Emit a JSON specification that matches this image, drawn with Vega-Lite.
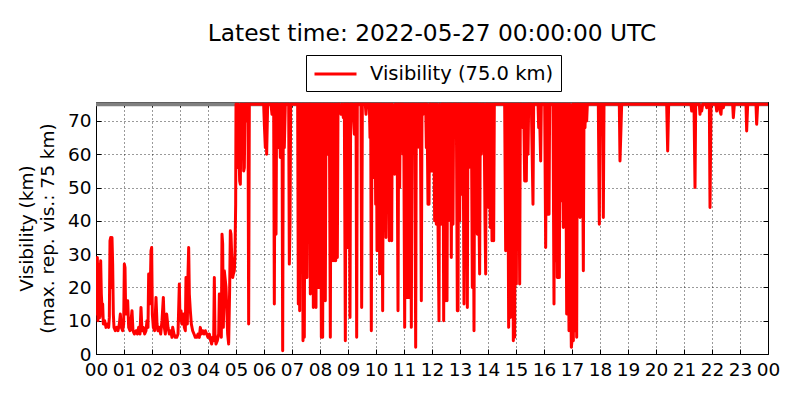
{
  "$schema": "https://vega.github.io/schema/vega-lite/v6.json",
  "width": 672,
  "height": 252,
  "autosize": {"type": "none"},
  "padding": {"left": 96, "top": 102, "right": 32, "bottom": 46},
  "background": "white",
  "config": {
    "font": "DejaVu Sans",
    "view": {"stroke": "black", "strokeWidth": 1},
    "axis": {
      "labelFont": "DejaVu Sans", "labelFontSize": 18.5, "labelColor": "black",
      "titleFont": "DejaVu Sans", "titleFontSize": 18.5, "titleFontWeight": "normal", "titleColor": "black",
      "domain": false, "tickColor": "black", "tickSize": -5, "tickWidth": 1,
      "gridColor": "black", "gridDash": [1, 3], "gridOpacity": 1, "gridWidth": 0.8,
      "labelOverlap": false, "labelFlush": false, "labelBound": false
    },
    "legend": {
      "orient": "none", "legendX": 210, "legendY": -47,
      "strokeColor": "black", "fillColor": "white", "padding": 7, "cornerRadius": 0,
      "symbolType": "M-1,0H3", "symbolSize": 441, "symbolStrokeWidth": 3,
      "labelFont": "DejaVu Sans", "labelFontSize": 19.5, "labelColor": "black", "labelOffset": 33, "labelLimit": 400
    }
  },
  "title": {"text": "Latest time: 2022-05-27 00:00:00 UTC", "font": "DejaVu Sans", "fontSize": 23.3, "fontWeight": "normal", "color": "black", "anchor": "middle", "offset": 8},
  "data": {"values": [
{"t":0,"v":28},{"t":0.024,"v":12},{"t":0.048,"v":29},{"t":0.071,"v":10},{"t":0.095,"v":15},{"t":0.119,"v":27},{"t":0.143,"v":11},{"t":0.167,"v":28},{"t":0.19,"v":18},{"t":0.214,"v":14},{"t":0.238,"v":15},{"t":0.262,"v":9},{"t":0.31,"v":10},{"t":0.357,"v":8},{"t":0.405,"v":9},{"t":0.452,"v":8},{"t":0.476,"v":11},{"t":0.5,"v":34},{"t":0.524,"v":35},{"t":0.548,"v":20},{"t":0.571,"v":35},{"t":0.595,"v":27},{"t":0.619,"v":12},{"t":0.643,"v":8},{"t":0.69,"v":7},{"t":0.738,"v":8},{"t":0.786,"v":7},{"t":0.833,"v":9},{"t":0.869,"v":12},{"t":0.905,"v":8},{"t":0.952,"v":7},{"t":0.988,"v":9},{"t":1.012,"v":27},{"t":1.036,"v":26},{"t":1.06,"v":12},{"t":1.095,"v":15},{"t":1.131,"v":16},{"t":1.167,"v":8},{"t":1.214,"v":7},{"t":1.262,"v":11},{"t":1.286,"v":13},{"t":1.321,"v":7},{"t":1.369,"v":6},{"t":1.429,"v":7},{"t":1.476,"v":6},{"t":1.524,"v":8},{"t":1.571,"v":6},{"t":1.607,"v":14},{"t":1.643,"v":7},{"t":1.69,"v":8},{"t":1.738,"v":6},{"t":1.786,"v":7},{"t":1.821,"v":10},{"t":1.857,"v":8},{"t":1.881,"v":24},{"t":1.905,"v":15},{"t":1.94,"v":20},{"t":1.964,"v":31},{"t":1.988,"v":32},{"t":2.012,"v":12},{"t":2.048,"v":8},{"t":2.095,"v":7},{"t":2.143,"v":17},{"t":2.179,"v":9},{"t":2.214,"v":7},{"t":2.262,"v":8},{"t":2.31,"v":6},{"t":2.357,"v":10},{"t":2.405,"v":17},{"t":2.44,"v":8},{"t":2.476,"v":6},{"t":2.524,"v":12},{"t":2.571,"v":8},{"t":2.619,"v":6},{"t":2.667,"v":7},{"t":2.714,"v":5},{"t":2.738,"v":8},{"t":2.786,"v":6},{"t":2.833,"v":5},{"t":2.881,"v":5},{"t":2.929,"v":6},{"t":2.976,"v":21},{"t":3.0,"v":10},{"t":3.036,"v":13},{"t":3.071,"v":9},{"t":3.119,"v":12},{"t":3.155,"v":8},{"t":3.19,"v":7},{"t":3.214,"v":23},{"t":3.238,"v":22},{"t":3.262,"v":9},{"t":3.286,"v":24},{"t":3.31,"v":32},{"t":3.333,"v":18},{"t":3.369,"v":13},{"t":3.405,"v":9},{"t":3.452,"v":7},{"t":3.5,"v":6},{"t":3.548,"v":5},{"t":3.595,"v":5},{"t":3.643,"v":6},{"t":3.69,"v":5},{"t":3.726,"v":8},{"t":3.762,"v":6},{"t":3.81,"v":7},{"t":3.857,"v":6},{"t":3.905,"v":7},{"t":3.952,"v":6},{"t":4.0,"v":5},{"t":4.048,"v":6},{"t":4.095,"v":4},{"t":4.131,"v":3},{"t":4.167,"v":5},{"t":4.202,"v":4},{"t":4.226,"v":23},{"t":4.25,"v":6},{"t":4.286,"v":3},{"t":4.333,"v":4},{"t":4.381,"v":6},{"t":4.405,"v":18},{"t":4.44,"v":10},{"t":4.476,"v":5},{"t":4.5,"v":36},{"t":4.524,"v":33},{"t":4.548,"v":8},{"t":4.583,"v":25},{"t":4.619,"v":22},{"t":4.643,"v":20},{"t":4.667,"v":14},{"t":4.702,"v":6},{"t":4.738,"v":3},{"t":4.774,"v":20},{"t":4.798,"v":37},{"t":4.821,"v":36},{"t":4.845,"v":30},{"t":4.881,"v":23},{"t":4.905,"v":24},{"t":4.94,"v":25},{"t":4.964,"v":30},{"t":4.988,"v":45},{"t":5.0,"v":75},
{"t":5.012,"v":63},{"t":5.036,"v":75},{"t":5.06,"v":56},{"t":5.083,"v":75},{"t":5.107,"v":60},{"t":5.131,"v":52},{"t":5.155,"v":51},{"t":5.179,"v":75},{"t":5.202,"v":67},{"t":5.226,"v":60},{"t":5.25,"v":75},{"t":5.274,"v":55},{"t":5.298,"v":56},{"t":5.321,"v":75},{"t":5.345,"v":70},{"t":5.369,"v":75},{"t":5.429,"v":75},{"t":5.452,"v":9},{"t":5.476,"v":75},
{"t":5.988,"v":75},{"t":6.012,"v":69},{"t":6.048,"v":62},{"t":6.071,"v":75},{"t":6.095,"v":60},{"t":6.131,"v":75},{"t":6.25,"v":75},{"t":6.286,"v":72},{"t":6.31,"v":75},{"t":6.345,"v":75},{"t":6.369,"v":15},{"t":6.393,"v":75},{"t":6.429,"v":36},{"t":6.452,"v":75},{"t":6.488,"v":75},{"t":6.524,"v":62},{"t":6.548,"v":75},{"t":6.583,"v":59},{"t":6.607,"v":75},{"t":6.643,"v":75},{"t":6.667,"v":1},{"t":6.69,"v":75},{"t":6.726,"v":62},{"t":6.762,"v":75},{"t":6.845,"v":75},{"t":6.881,"v":75},{"t":6.905,"v":27},{"t":6.929,"v":39},{"t":6.952,"v":75},{"t":6.988,"v":75},{"t":7.202,"v":75},{"t":7.226,"v":15},{"t":7.25,"v":75},{"t":7.274,"v":13},{"t":7.298,"v":75},{"t":7.333,"v":25},{"t":7.369,"v":75},{"t":7.393,"v":4},{"t":7.417,"v":75},{"t":7.44,"v":5},{"t":7.464,"v":75},{"t":7.488,"v":40},{"t":7.512,"v":75},{"t":7.536,"v":23},{"t":7.56,"v":75},{"t":7.583,"v":40},{"t":7.607,"v":75},{"t":7.631,"v":75},{"t":7.655,"v":18},{"t":7.679,"v":75},{"t":7.702,"v":20},{"t":7.726,"v":75},{"t":7.762,"v":14},{"t":7.786,"v":75},{"t":7.81,"v":40},{"t":7.833,"v":75},{"t":7.857,"v":14},{"t":7.881,"v":75},{"t":7.905,"v":40},{"t":7.929,"v":75},{"t":7.952,"v":20},{"t":7.976,"v":75},{"t":8.0,"v":22},{"t":8.024,"v":75},{"t":8.048,"v":5},{"t":8.071,"v":75},{"t":8.095,"v":5},{"t":8.119,"v":75},{"t":8.143,"v":17},{"t":8.167,"v":75},{"t":8.19,"v":16},{"t":8.214,"v":75},{"t":8.25,"v":60},{"t":8.274,"v":75},{"t":8.31,"v":67},{"t":8.333,"v":75},{"t":8.369,"v":5},{"t":8.393,"v":75},{"t":8.429,"v":28},{"t":8.452,"v":75},{"t":8.476,"v":52},{"t":8.5,"v":28},{"t":8.524,"v":75},{"t":8.56,"v":28},{"t":8.583,"v":75},{"t":8.619,"v":29},{"t":8.643,"v":75},{"t":8.69,"v":75},{"t":8.75,"v":72},{"t":8.786,"v":75},{"t":8.833,"v":71},{"t":8.869,"v":75},{"t":8.905,"v":4},{"t":8.929,"v":75},{"t":8.964,"v":32},{"t":8.988,"v":75},{"t":9.012,"v":32},{"t":9.036,"v":75},{"t":9.071,"v":11},{"t":9.095,"v":75},{"t":9.167,"v":75},{"t":9.226,"v":66},{"t":9.25,"v":75},{"t":9.286,"v":75},{"t":9.31,"v":5},{"t":9.333,"v":75},{"t":9.464,"v":75},{"t":9.488,"v":14},{"t":9.512,"v":75},{"t":9.619,"v":75},{"t":9.643,"v":72},{"t":9.667,"v":75},{"t":9.762,"v":75},{"t":9.786,"v":65},{"t":9.81,"v":75},{"t":9.833,"v":7},{"t":9.857,"v":75},{"t":9.893,"v":65},{"t":9.917,"v":75},{"t":9.94,"v":53},{"t":9.964,"v":75},{"t":9.988,"v":45},{"t":10.012,"v":75},{"t":10.036,"v":31},{"t":10.06,"v":75},{"t":10.083,"v":45},{"t":10.107,"v":75},{"t":10.131,"v":24},{"t":10.155,"v":75},{"t":10.179,"v":44},{"t":10.202,"v":75},{"t":10.238,"v":13},{"t":10.262,"v":75},{"t":10.298,"v":45},{"t":10.321,"v":75},{"t":10.357,"v":35},{"t":10.381,"v":75},{"t":10.417,"v":44},{"t":10.44,"v":75},{"t":10.476,"v":34},{"t":10.5,"v":75},{"t":10.536,"v":45},{"t":10.56,"v":34},{"t":10.583,"v":75},
{"t":10.667,"v":54},{"t":10.69,"v":75},{"t":10.726,"v":60},{"t":10.75,"v":75},{"t":10.786,"v":13},{"t":10.81,"v":75},{"t":10.845,"v":50},{"t":10.869,"v":75},{"t":10.905,"v":75},{"t":10.94,"v":75},{"t":10.964,"v":60},{"t":10.988,"v":75},{"t":11.024,"v":8},{"t":11.048,"v":75},{"t":11.083,"v":17},{"t":11.107,"v":75},{"t":11.143,"v":17},{"t":11.167,"v":75},{"t":11.202,"v":17},{"t":11.226,"v":75},{"t":11.262,"v":8},{"t":11.286,"v":75},{"t":11.321,"v":75},{"t":11.357,"v":67},{"t":11.381,"v":75},{"t":11.417,"v":2},{"t":11.44,"v":75},{"t":11.464,"v":62},{"t":11.5,"v":63},{"t":11.524,"v":75},{"t":11.56,"v":62},{"t":11.583,"v":75},{"t":11.619,"v":16},{"t":11.643,"v":75},{"t":11.679,"v":72},{"t":11.714,"v":75},{"t":11.774,"v":75},{"t":11.798,"v":62},{"t":11.821,"v":75},{"t":11.857,"v":45},{"t":11.893,"v":45},{"t":11.917,"v":75},{"t":11.952,"v":75},{"t":11.988,"v":55},{"t":12.012,"v":75},{"t":12.036,"v":55},{"t":12.06,"v":75},{"t":12.095,"v":40},{"t":12.119,"v":75},{"t":12.155,"v":39},{"t":12.179,"v":75},{"t":12.214,"v":40},{"t":12.25,"v":10},{"t":12.274,"v":75},{"t":12.298,"v":40},{"t":12.333,"v":39},{"t":12.357,"v":75},{"t":12.393,"v":75},{"t":12.417,"v":10},{"t":12.44,"v":75},{"t":12.476,"v":16},{"t":12.5,"v":75},{"t":12.536,"v":16},{"t":12.56,"v":75},{"t":12.583,"v":40},{"t":12.607,"v":75},{"t":12.643,"v":68},{"t":12.667,"v":75},{"t":12.69,"v":29},{"t":12.714,"v":75},{"t":12.75,"v":39},{"t":12.774,"v":75},{"t":12.81,"v":75},{"t":12.869,"v":75},{"t":12.905,"v":13},{"t":12.929,"v":13},{"t":12.952,"v":75},{"t":12.988,"v":40},{"t":13.012,"v":75},{"t":13.048,"v":75},{"t":13.083,"v":48},{"t":13.107,"v":75},{"t":13.143,"v":15},{"t":13.167,"v":75},{"t":13.202,"v":50},{"t":13.226,"v":75},{"t":13.262,"v":14},{"t":13.286,"v":75},{"t":13.321,"v":56},{"t":13.345,"v":75},{"t":13.381,"v":68},{"t":13.405,"v":75},{"t":13.44,"v":20},{"t":13.464,"v":75},{"t":13.5,"v":7},{"t":13.524,"v":75},{"t":13.56,"v":55},{"t":13.583,"v":75},{"t":13.619,"v":36},{"t":13.643,"v":75},{"t":13.679,"v":40},{"t":13.702,"v":24},{"t":13.726,"v":75},{"t":13.762,"v":60},{"t":13.798,"v":75},{"t":13.833,"v":63},{"t":13.857,"v":75},{"t":13.893,"v":40},{"t":13.917,"v":24},{"t":13.94,"v":75},{"t":13.964,"v":60},{"t":13.988,"v":75},{"t":14.024,"v":44},{"t":14.048,"v":75},{"t":14.083,"v":38},{"t":14.107,"v":75},{"t":14.143,"v":34},{"t":14.167,"v":75},{"t":14.202,"v":34},{"t":14.226,"v":75},{"t":14.595,"v":75},{"t":14.631,"v":31},{"t":14.655,"v":75},{"t":14.679,"v":46},{"t":14.702,"v":75},{"t":14.738,"v":8},{"t":14.762,"v":75},{"t":14.798,"v":11},{"t":14.821,"v":75},{"t":14.845,"v":47},{"t":14.869,"v":75},{"t":14.905,"v":4},{"t":14.929,"v":75},{"t":14.952,"v":5},{"t":14.976,"v":75},{"t":15.012,"v":21},{"t":15.036,"v":75},{"t":15.071,"v":57},{"t":15.095,"v":75},{"t":15.131,"v":21},{"t":15.155,"v":75},{"t":15.19,"v":75},{"t":15.25,"v":68},{"t":15.274,"v":75},{"t":15.31,"v":52},{"t":15.333,"v":75},{"t":15.369,"v":52},{"t":15.393,"v":75},{"t":15.429,"v":60},{"t":15.452,"v":75},{"t":15.548,"v":75},{"t":15.607,"v":45},{"t":15.631,"v":75},{"t":15.786,"v":75},{"t":15.81,"v":68},{"t":15.833,"v":75},{"t":15.881,"v":58},{"t":15.905,"v":75},{"t":16.024,"v":75},{"t":16.06,"v":32},{"t":16.083,"v":75},{"t":16.119,"v":42},{"t":16.143,"v":75},{"t":16.179,"v":42},{"t":16.202,"v":75},{"t":16.321,"v":75},{"t":16.357,"v":15},{"t":16.381,"v":75},{"t":16.417,"v":28},{"t":16.44,"v":75},{"t":16.476,"v":23},{"t":16.5,"v":75},
{"t":16.548,"v":23},{"t":16.571,"v":75},{"t":16.607,"v":46},{"t":16.631,"v":46},{"t":16.655,"v":75},{"t":16.69,"v":38},{"t":16.714,"v":75},{"t":16.75,"v":71},{"t":16.774,"v":75},{"t":16.81,"v":12},{"t":16.833,"v":75},{"t":16.869,"v":38},{"t":16.893,"v":7},{"t":16.917,"v":75},{"t":16.952,"v":20},{"t":16.976,"v":2},{"t":17.0,"v":4},{"t":17.024,"v":75},{"t":17.048,"v":4},{"t":17.071,"v":75},{"t":17.107,"v":7},{"t":17.131,"v":75},{"t":17.167,"v":5},{"t":17.19,"v":75},{"t":17.226,"v":45},{"t":17.25,"v":75},{"t":17.286,"v":41},{"t":17.31,"v":75},{"t":17.345,"v":52},{"t":17.369,"v":75},{"t":17.405,"v":25},{"t":17.429,"v":75},{"t":17.464,"v":68},{"t":17.488,"v":75},{"t":17.524,"v":70},{"t":17.548,"v":75},{"t":17.94,"v":75},{"t":17.976,"v":39},{"t":18.0,"v":75},{"t":18.095,"v":75},{"t":18.119,"v":41},{"t":18.143,"v":75},{"t":18.69,"v":75},{"t":18.714,"v":58},{"t":18.75,"v":68},{"t":18.774,"v":75},{"t":20.381,"v":75},{"t":20.417,"v":61},{"t":20.452,"v":75},{"t":21.25,"v":75},{"t":21.274,"v":73},{"t":21.298,"v":75},{"t":21.357,"v":75},{"t":21.393,"v":50},{"t":21.417,"v":75},{"t":21.548,"v":75},{"t":21.571,"v":72},{"t":21.595,"v":74},{"t":21.631,"v":73},{"t":21.667,"v":75},{"t":21.786,"v":75},{"t":21.81,"v":74},{"t":21.845,"v":75},{"t":21.905,"v":75},{"t":21.929,"v":44},{"t":21.964,"v":75},{"t":22.143,"v":75},{"t":22.167,"v":73},{"t":22.202,"v":75},{"t":22.262,"v":75},{"t":22.286,"v":73},{"t":22.321,"v":72},{"t":22.345,"v":75},{"t":22.381,"v":75},{"t":22.405,"v":74},{"t":22.429,"v":75},{"t":22.738,"v":75},{"t":22.762,"v":71},{"t":22.798,"v":75},{"t":23.214,"v":75},{"t":23.238,"v":67},{"t":23.274,"v":75},{"t":23.571,"v":75},{"t":23.595,"v":69},{"t":23.631,"v":75},{"t":24.0,"v":75}
  ]},
  "layer": [
    {
      "mark": {"type": "line", "color": "#808080", "strokeWidth": 4, "clip": true},
      "encoding": {
        "x": {"field": "t", "type": "quantitative", "scale": {"domain": [0, 24], "nice": false, "zero": false},
              "axis": {"orient": "top", "values": [0,1,2,3,4,5,6,7,8,9,10,11,12,13,14,15,16,17,18,19,20,21,22,23,24], "labels": false, "grid": false, "title": null}},
        "y": {"datum": 75, "type": "quantitative", "scale": {"domain": [0, 75.7], "nice": false},
              "axis": {"orient": "right", "values": [0,10,20,30,40,50,60,70], "labels": false, "grid": false, "title": null}}
      }
    },
    {
      "mark": {"type": "line", "strokeWidth": 3, "strokeJoin": "round", "clip": true},
      "encoding": {
        "x": {"field": "t", "type": "quantitative",
              "axis": {"orient": "bottom", "values": [0,1,2,3,4,5,6,7,8,9,10,11,12,13,14,15,16,17,18,19,20,21,22,23,24],
                       "labelExpr": "(datum.value % 24 < 10 ? '0' : '') + (datum.value % 24)", "labelPadding": 11, "grid": true, "title": null}},
        "y": {"field": "v", "type": "quantitative",
              "axis": {"orient": "left", "values": [0,10,20,30,40,50,60,70], "labelPadding": 10, "grid": true,
                       "title": ["Visibility (km)", "(max. rep. vis.: 75 km)"], "titleLineHeight": 21, "titlePadding": 10}},
        "color": {"datum": "Visibility (75.0 km)", "type": "nominal", "scale": {"range": ["#ff0000"]}, "legend": {"title": null}}
      }
    }
  ],
  "resolve": {"axis": {"x": "independent", "y": "independent"}}
}
